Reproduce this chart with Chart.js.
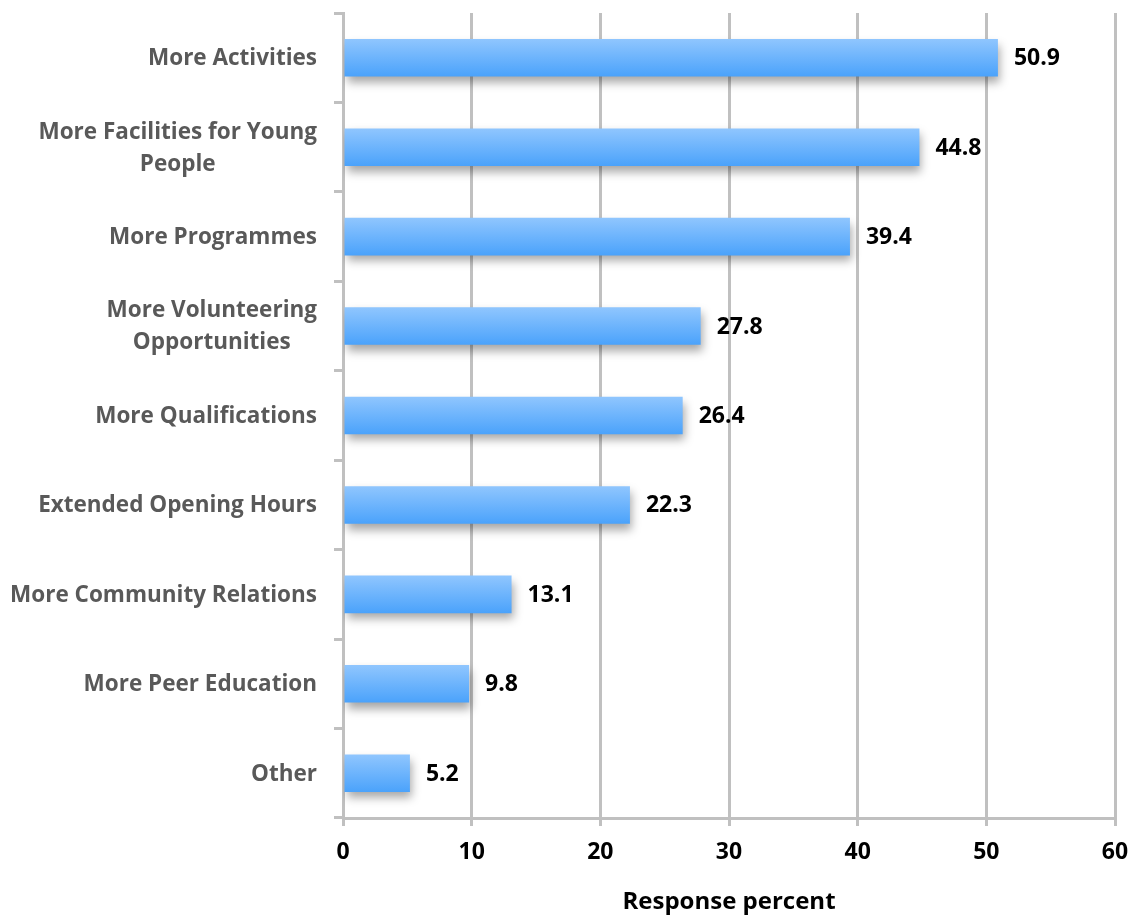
<!DOCTYPE html>
<html>
<head>
<meta charset="utf-8">
<script src="https://cdn.jsdelivr.net/npm/chart.js@4.4.1/dist/chart.umd.min.js"></script>
<style>
  html, body { margin: 0; padding: 0; background: #fff; }
  #wrap { width: 1137px; height: 920px; }
</style>
</head>
<body>
<div id="wrap"><canvas id="barChart" width="1137" height="920"></canvas></div>
<script>
// ---- data ----
const categories = [
  ["More Activities"],
  ["More Facilities for Young", "People"],
  ["More Programmes"],
  ["More Volunteering", "Opportunities"],
  ["More Qualifications"],
  ["Extended Opening Hours"],
  ["More Community Relations"],
  ["More Peer Education"],
  ["Other"]
];
const responsePercent = [50.9, 44.8, 39.4, 27.8, 26.4, 22.3, 13.1, 9.8, 5.2];
const xTicks = [0, 10, 20, 30, 40, 50, 60];
const axisTitle = "Response percent";

const FONT = "'Open Sans', 'DejaVu Sans', sans-serif";
const GRID = "#c0c0c0";

// blue gradient for each bar, top light -> bottom darker
function barFill(context) {
  const chart = context.chart;
  const y = chart.scales.y;
  if (!y || context.dataIndex === undefined) return "#6ab3fd";
  const cy = y.getPixelForValue(context.dataIndex);
  if (!isFinite(cy)) return "#6ab3fd";
  const g = chart.ctx.createLinearGradient(0, cy - 19, 0, cy + 19);
  g.addColorStop(0, "#90c6fe");
  g.addColorStop(1, "#4aa2fb");
  return g;
}

// drop shadow under the bars
const barShadow = {
  id: "barShadow",
  beforeDatasetsDraw(chart) {
    const ctx = chart.ctx;
    ctx.save();
    ctx.shadowColor = "rgba(0,0,0,0.35)";
    ctx.shadowBlur = 9;
    ctx.shadowOffsetX = 2;
    ctx.shadowOffsetY = 6;
  },
  afterDatasetsDraw(chart) {
    chart.ctx.restore();
  }
};

// value labels at bar ends + category labels (lines centered, block right aligned)
const textLabels = {
  id: "textLabels",
  afterDraw(chart) {
    const ctx = chart.ctx;
    const meta = chart.getDatasetMeta(0);
    ctx.save();
    ctx.font = "bold 23px " + FONT;
    ctx.fillStyle = "#000";
    ctx.textBaseline = "middle";
    ctx.textAlign = "left";
    meta.data.forEach((bar, i) => {
      ctx.fillText(responsePercent[i].toFixed(1), bar.x + 16, bar.y + 1);
    });

    const y = chart.scales.y;
    const right = chart.chartArea.left - 26;
    const lh = 32;
    ctx.font = "bold 22.5px " + FONT;
    ctx.fillStyle = "#595959";
    ctx.textAlign = "center";
    categories.forEach((lines, i) => {
      const cy = y.getPixelForValue(i);
      const w = Math.max(...lines.map(l => ctx.measureText(l).width));
      const cx = right - w / 2;
      lines.forEach((l, k) => {
        ctx.fillText(l, cx, cy + 1 + (k - (lines.length - 1) / 2) * lh);
      });
    });
    ctx.restore();
  }
};

new Chart(document.getElementById("barChart"), {
  type: "bar",
  data: {
    labels: categories,
    datasets: [{
      data: responsePercent,
      backgroundColor: barFill,
      borderWidth: 0,
      barPercentage: 0.42,
      categoryPercentage: 1
    }]
  },
  options: {
    indexAxis: "y",
    responsive: false,
    animation: false,
    layout: { padding: { top: 13, right: 22, bottom: 0, left: 0 } },
    plugins: {
      legend: { display: false },
      tooltip: { enabled: false }
    },
    scales: {
      x: {
        min: xTicks[0],
        max: xTicks[xTicks.length - 1],
        afterBuildTicks(scale) {
          scale.ticks = xTicks.map(v => ({ value: v }));
        },
        afterFit(scale) {
          scale.height = 102;
          scale.paddingLeft = 0;
          scale.paddingRight = 0;
        },
        grid: { color: GRID, lineWidth: 3, tickLength: 8 },
        border: { color: GRID, width: 3 },
        ticks: {
          color: "#000",
          padding: 13,
          font: { family: FONT, size: 23, weight: "bold" }
        },
        title: {
          display: true,
          text: axisTitle,
          color: "#000",
          padding: { top: 4, bottom: 3 },
          font: { family: FONT, size: 24, weight: "bold" }
        }
      },
      y: {
        afterFit(scale) { scale.width = 343; },
        grid: { drawOnChartArea: false, color: GRID, lineWidth: 3, tickLength: 9, offset: true },
        border: { color: GRID, width: 3 },
        ticks: { display: false }
      }
    }
  },
  plugins: [barShadow, textLabels]
});
</script>
</body>
</html>
